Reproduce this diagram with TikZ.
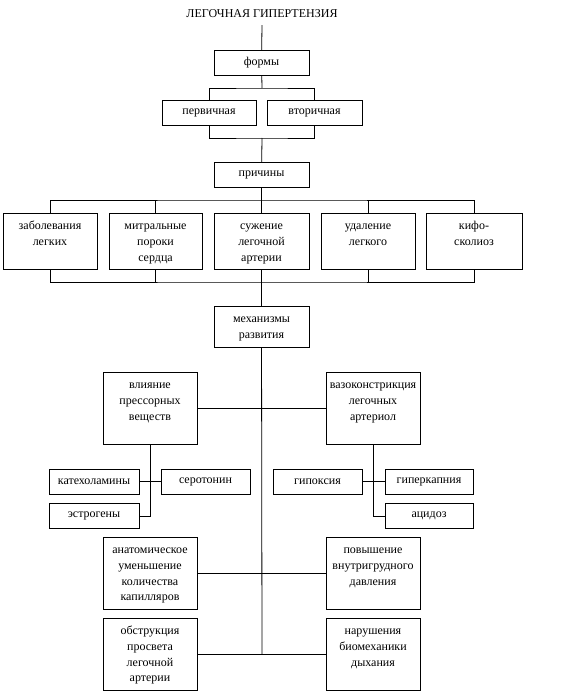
\documentclass[tikz,border=0pt]{standalone}
\usepackage{fontspec}
\setmainfont{Liberation Serif}
\usetikzlibrary{positioning,calc}
\tikzset{
  onebox/.style={draw, line width=0.8pt, align=center, inner xsep=0pt,
                 inner ysep=3pt, minimum height=25.5pt},
  tallbox/.style={draw, line width=0.8pt, align=center, inner xsep=0pt,
                  inner ysep=3pt, text height=13.5pt},
  link/.style={line width=0.8pt}}

\begin{document}
\begin{tikzpicture}[x=1pt, y=-1pt, font=\fontsize{12}{15.8}\selectfont]
    \useasboundingbox (0,0) rectangle (574,692);
    \node[inner sep=2pt] (title) at (262,14) {ЛЕГОЧНАЯ ГИПЕРТЕНЗИЯ};
    % forms
    \node[onebox, text width=95pt] (formy) at (261.5,63) {формы};
    \node[onebox, text width=94pt] (perv) at (209,113) {первичная};
    \node[onebox, text width=95pt] (vtor) at (314.5,113) {вторичная};
    \coordinate (fbus) at (262,88);
    \coordinate (pbus) at (262,138);
    \draw[link] ($(title.south)+(0,5)$) -- (formy);
    \draw[link] (formy) -- (fbus);
    \draw[link] (perv.north) |- (fbus) -| (vtor.north);
    \draw[link] (perv.south) |- (pbus) -| (vtor.south);
    % causes
    \node[onebox, text width=95pt] (prich) at (261.5,175) {причины};
    \draw[link] (pbus) -- (prich);
    \node[tallbox, text width=94pt, text depth=36.5pt] (zabol) at (50,241) {заболевания\\легких};
    \node[tallbox, text width=93pt, text depth=36.5pt] (mitral) at (155.5,241) {митральные\\пороки\\сердца};
    \node[tallbox, text width=95pt, text depth=36.5pt] (suzh) at (261.5,241) {сужение\\легочной\\артерии};
    \node[tallbox, text width=94pt, text depth=36.5pt] (udal) at (368,241) {удаление\\легкого};
    \node[tallbox, text width=96pt, text depth=36.5pt] (kifo) at (474,241) {кифо-\\сколиоз};
    \coordinate (cbus) at (262,200);
    \coordinate (dbus) at (262,282);
    \draw[link] (prich) -- (suzh);
    \draw[link] (zabol.north) |- (cbus) -| (kifo.north);
    \draw[link] (mitral.north) -- (mitral.north |- cbus);
    \draw[link] (udal.north) -- (udal.north |- cbus);
    \draw[link] (zabol.south) |- (dbus) -| (kifo.south);
    \draw[link] (mitral.south) -- (mitral.south |- dbus);
    \draw[link] (udal.south) -- (udal.south |- dbus);
    % mechanisms
    \node[tallbox, text width=95pt, text depth=21.5pt] (mech) at (261.5,326.5) {механизмы\\развития};
    \draw[link] (suzh) -- (mech);
    \node[tallbox, text width=94pt, text depth=52.5pt] (vliyan) at (150,408) {влияние\\прессорных\\веществ};
    \node[tallbox, text width=94pt, text depth=52.5pt] (vazo) at (373,408) {вазоконстрикция\\легочных\\артериол};
    \node[tallbox, text width=94pt, text depth=52.5pt] (anatom) at (150,573) {анатомическое\\уменьшение\\количества\\капилляров};
    \node[tallbox, text width=94pt, text depth=52.5pt] (davl) at (373,573) {повышение\\внутригрудного\\давления};
    \node[tallbox, text width=94pt, text depth=52.5pt] (obstr) at (150,654) {обструкция\\просвета\\легочной\\артерии};
    \node[tallbox, text width=94pt, text depth=52.5pt] (biomech) at (373,654) {нарушения\\биомеханики\\дыхания};
    \coordinate (mend) at (262,654);
    \draw[link] (mech) -- (mend);
    \draw[link] (vliyan) -- (vazo);
    \draw[link] (anatom) -- (davl);
    \draw[link] (obstr) -- (biomech);
    % pressor substances
    \node[onebox, text width=90pt, minimum height=25pt] (katex) at (94,481.5) {катехоламины};
    \node[onebox, text width=89pt, minimum height=25pt] (sero) at (205.5,481.5) {серотонин};
    \node[onebox, text width=90pt] (estro) at (94,516) {эстрогены};
    \draw[link] (katex) -- (sero);
    \draw[link] (vliyan) |- (estro);
    % vasoconstriction
    \node[onebox, text width=89pt, minimum height=25pt] (gipox) at (317.5,481.5) {гипоксия};
    \node[onebox, text width=88pt, minimum height=25pt] (giperk) at (429,481.5) {гиперкапния};
    \node[onebox, text width=88pt] (acid) at (429,516) {ацидоз};
    \draw[link] (gipox) -- (giperk);
    \draw[link] (vazo) |- (acid);
\end{tikzpicture}
\end{document}
